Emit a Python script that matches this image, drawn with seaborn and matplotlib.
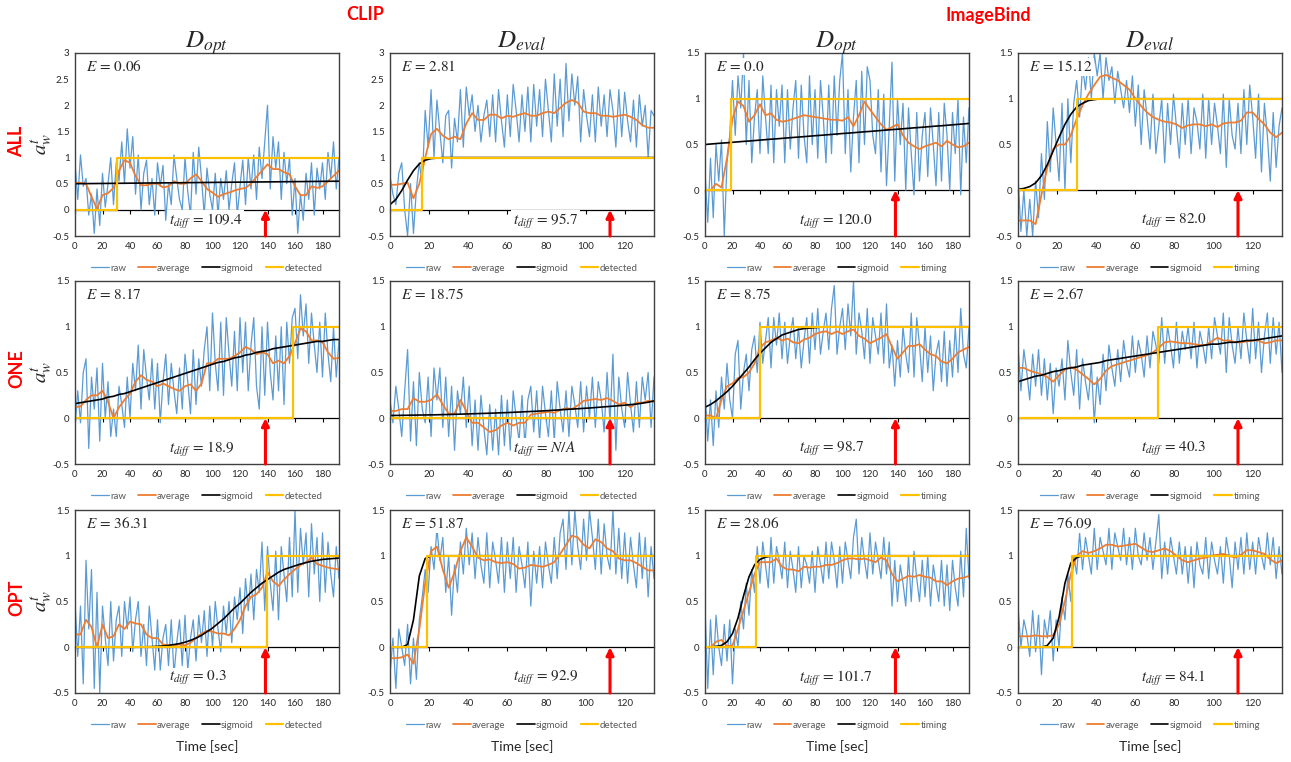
import numpy as np
import pandas as pd
import matplotlib
matplotlib.use("Agg")
import matplotlib.pyplot as plt
from matplotlib.ticker import FuncFormatter
import seaborn as sns

# --- time grids (seconds) ---
OPT_RAW_STEP, OPT_AVG_STEP, OPT_XMAX = 2.0, 4.0, 192
EVAL_RAW_STEP, EVAL_AVG_STEP, EVAL_XMAX = 1.5, 3.0, 135

row_names = ["ALL", "ONE", "OPT"]
col_models = ["CLIP", "CLIP", "ImageBind", "ImageBind"]
col_splits = ["opt", "eval", "opt", "eval"]
step_names = ["detected", "detected", "timing", "timing"]
e_labels = [["0.06", "2.81", "0.0", "15.12"],
            ["8.17", "18.75", "8.75", "2.67"],
            ["36.31", "51.87", "28.06", "76.09"]]
tdiff_labels = [["109.4", "95.7", "120.0", "82.0"],
                ["18.9", "N/A", "98.7", "40.3"],
                ["0.3", "92.9", "101.7", "84.1"]]
onsets = [[30.2, 16.5, 19.0, 30.0],
          [158.7, None, 40.2, 71.5],
          [139.4, 19.1, 37.1, 27.6]]
arrow_times = [138.5, 112.5, 138.5, 112.5]
y_tops = [[3.0, 3.0, 1.5, 1.5],
          [1.5, 1.5, 1.5, 1.5],
          [1.5, 1.5, 1.5, 1.5]]

# ---------------- ALL ----------------
raw_all_clip_opt = [
    0.9, 0.2, 1.05, 0.45, 0.6, -0.1, 0.3, -0.45, 0.4, -0.3,
    0.7, 0.05, 0.5, 1.0, 0.1, 0.9, 0.55, 1.3, 0.5, 1.55,
    0.8, 1.4, 0.3, 1.05, 0.0, 0.7, 0.95, 0.1, 0.6, -0.1,
    0.9, 0.45, 0.85, -0.2, 0.5, 0.1, 1.05, 0.6, 0.2, 0.0,
    1.0, 0.35, -0.1, 1.1, 0.3, 1.2, 0.6, -0.1, 0.8, 0.3,
    0.0, 0.7, -0.1, 0.6, 0.2, 0.75, 0.0, 0.5, 0.9, -0.1,
    0.45, 0.95, 0.1, 1.0, 0.4, 1.05, 0.2, 1.2, 0.6, 1.3,
    2.0, 0.4, 1.4, 0.8, 1.3, 0.2, 1.1, 0.5, 1.0, -0.1,
    0.6, -0.45, 0.3, -0.2, 0.7, 0.2, 0.9, -0.1, 0.8, 0.4,
    0.9, 0.2, 1.1, 0.6, 1.3, 0.4, 1.0]
avg_all_clip_opt = [
    0.52, 0.52, 0.5, 0.25, 0.02, 0.28, 0.32, 0.42, 0.75, 0.95,
    0.9, 0.65, 0.47, 0.47, 0.5, 0.5, 0.43, 0.45, 0.55, 0.5,
    0.5, 0.6, 0.68, 0.55, 0.4, 0.33, 0.25, 0.3, 0.33, 0.37,
    0.4, 0.42, 0.5, 0.63, 0.75, 0.87, 0.78, 0.78, 0.72, 0.68,
    0.45, 0.28, 0.28, 0.45, 0.42, 0.45, 0.55, 0.65, 0.75]
sig_all_clip_opt = [
    0.500, 0.501, 0.502, 0.503, 0.504, 0.505, 0.506, 0.507, 0.508, 0.509,
    0.510, 0.511, 0.512, 0.513, 0.514, 0.515, 0.516, 0.517, 0.518, 0.519,
    0.520, 0.521, 0.522, 0.523, 0.524, 0.525, 0.526, 0.527, 0.528, 0.529,
    0.530, 0.531, 0.532, 0.533, 0.534, 0.535, 0.536, 0.537, 0.538, 0.539,
    0.540, 0.541, 0.542, 0.543, 0.544, 0.545, 0.546, 0.547, 0.548]

raw_all_clip_eval = [
    0.65, 0.3, 0.1, 0.7, 0.9, 0.0, -0.5, 0.5, -0.45, 0.4,
    0.9, 0.5, 1.9, 1.2, 2.3, 1.0, 2.1, 1.5, 0.9, 1.8,
    1.9, 0.8, 1.75, 1.3, 2.3, 1.2, 2.35, 1.8, 2.2, 1.5,
    2.0, 1.3, 1.8, 2.1, 1.4, 2.2, 1.3, 2.3, 1.7, 1.2,
    2.2, 1.4, 2.4, 1.9, 1.3, 2.2, 1.5, 2.35, 1.3, 2.4,
    1.6, 2.3, 1.4, 2.5, 1.9, 1.3, 2.6, 1.6, 2.5, 1.4,
    2.8, 1.7, 2.6, 2.0, 2.55, 1.3, 2.3, 1.8, 1.4, 2.2,
    1.3, 2.35, 1.6, 2.2, 1.4, 2.3, 1.9, 1.2, 2.3, 1.4,
    2.25, 1.7, 1.3, 2.1, 1.2, 2.2, 1.6, 2.0, 1.0, 1.9,
    1.8]
avg_all_clip_eval = [
    0.48, 0.48, 0.5, 0.52, 0.22, 0.5, 1.0, 1.45, 1.55, 1.42,
    1.35, 1.4, 1.35, 1.65, 1.85, 1.72, 1.72, 1.82, 1.82, 1.75,
    1.8, 1.78, 1.82, 1.85, 1.8, 1.8, 1.85, 1.88, 1.85, 1.95,
    2.05, 2.1, 2.05, 1.88, 1.85, 1.85, 1.8, 1.8, 1.78, 1.8,
    1.82, 1.78, 1.72, 1.62, 1.57, 1.57]
sig_all_clip_eval = [
    0.1, 0.2, 0.37, 0.57, 0.75, 0.88, 0.95, 0.98, 0.99, 1.0,
    1.0, 1.0, 1.0, 1.0, 1.0, 1.0, 1.0, 1.0, 1.0, 1.0,
    1.0, 1.0, 1.0, 1.0, 1.0, 1.0, 1.0, 1.0, 1.0, 1.0,
    1.0, 1.0, 1.0, 1.0, 1.0, 1.0, 1.0, 1.0, 1.0, 1.0,
    1.0, 1.0, 1.0, 1.0, 1.0, 1.0]

raw_all_ib_opt = [
    0.2, -0.35, 0.35, -0.3, 0.5, 0.1, 0.55, -0.5, 0.3, 0.6,
    1.2, 0.6, 1.25, 0.9, 1.5, 0.5, 1.2, 0.3, 0.8, 1.1,
    0.4, 1.25, 0.8, 0.4, 1.15, 0.3, 1.1, 0.7, 1.15, 0.3,
    1.1, 0.45, 0.9, 1.2, 0.35, 1.15, 0.6, 0.3, 1.25, 0.5,
    1.1, 0.35, 1.2, 0.8, 0.3, 1.15, 0.4, 1.25, 0.6, 1.2,
    1.5, 0.4, 1.1, 0.2, 0.8, 1.2, 0.3, 1.3, 0.5, 1.35,
    1.2, 0.6, 0.4, 1.1, 0.2, 1.05, 0.05, 0.7, 1.4, 0.1,
    1.0, 0.5, 0.95, 0.0, 0.9, 0.4, -0.05, 0.85, 0.1, 0.6,
    0.85, 0.15, 0.9, 0.5, 0.05, 0.85, 0.1, 0.95, 0.6, 0.0,
    0.85, 0.4, 1.0, -0.05, 0.8, 0.3, 0.9]
avg_all_ib_opt = [
    0.0, 0.0, 0.07, 0.03, 0.35, 0.78, 0.97, 0.92, 0.75, 0.82,
    0.94, 0.82, 0.84, 0.77, 0.75, 0.76, 0.78, 0.8, 0.82, 0.81,
    0.8, 0.79, 0.78, 0.77, 0.77, 0.76, 0.8, 0.7, 0.82, 0.97,
    0.88, 0.8, 0.72, 0.66, 0.69, 0.72, 0.6, 0.52, 0.48, 0.45,
    0.48, 0.5, 0.52, 0.48, 0.54, 0.5, 0.47, 0.48, 0.52]
sig_all_ib_opt = [
    0.500, 0.505, 0.510, 0.515, 0.519, 0.524, 0.529, 0.534, 0.538, 0.543,
    0.548, 0.553, 0.558, 0.562, 0.567, 0.572, 0.577, 0.581, 0.586, 0.591,
    0.596, 0.600, 0.605, 0.610, 0.615, 0.620, 0.624, 0.629, 0.634, 0.639,
    0.643, 0.648, 0.653, 0.658, 0.663, 0.667, 0.672, 0.677, 0.682, 0.686,
    0.691, 0.696, 0.701, 0.705, 0.710, 0.715, 0.720, 0.725, 0.730]

raw_all_ib_eval = [
    0.15, -0.45, 0.0, -0.5, -0.1, -0.5, 0.1, -0.3, 0.4, -0.1,
    0.75, 0.2, 0.9, 0.5, 0.1, 0.95, 0.0, 1.0, 0.3, 0.95,
    1.2, 0.8, 1.35, 1.1, 1.45, 1.0, 1.5, 1.25, 1.5, 1.0,
    1.45, 1.2, 1.35, 0.95, 1.3, 1.1, 0.9, 1.2, 0.85, 1.25,
    0.7, 1.15, 0.5, 1.1, 0.8, 0.45, 1.05, 0.4, 0.7, 1.0,
    0.3, 0.95, 0.5, 1.05, 0.7, 0.35, 0.95, 0.5, 1.0, 0.4,
    0.9, 0.75, 0.45, 1.05, 0.35, 1.0, 0.5, 0.95, 0.7, 0.4,
    1.05, 0.25, 1.0, 0.6, 0.45, 0.95, 0.4, 1.1, 0.5, 1.15,
    0.8, 0.35, 1.05, 0.2, 0.95, 0.6, 0.1, 0.85, 0.25, 0.7,
    0.9]
avg_all_ib_eval = [
    -0.33, -0.33, -0.33, -0.37, -0.05, 0.25, 0.45, 0.5, 0.5, 0.6,
    0.78, 0.93, 1.05, 1.15, 1.24, 1.26, 1.23, 1.2, 1.15, 1.1,
    1.0, 0.92, 0.85, 0.8, 0.77, 0.75, 0.74, 0.72, 0.68, 0.71,
    0.72, 0.72, 0.7, 0.72, 0.69, 0.73, 0.74, 0.74, 0.76, 0.85,
    0.85, 0.78, 0.72, 0.63, 0.58, 0.63]
sig_all_ib_eval = [
    0.01, 0.02, 0.04, 0.08, 0.16, 0.28, 0.43, 0.58, 0.72, 0.83,
    0.91, 0.95, 0.98, 0.99, 1.0, 1.0, 1.0, 1.0, 1.0, 1.0,
    1.0, 1.0, 1.0, 1.0, 1.0, 1.0, 1.0, 1.0, 1.0, 1.0,
    1.0, 1.0, 1.0, 1.0, 1.0, 1.0, 1.0, 1.0, 1.0, 1.0,
    1.0, 1.0, 1.0, 1.0, 1.0, 1.0]

# ---------------- ONE ----------------
raw_one_clip_opt = [
    -0.1, 0.3, -0.05, 0.5, 0.65, -0.33, 0.45, 0.1, 0.55, -0.25,
    0.6, 0.0, 0.4, -0.2, 0.1, -0.2, 0.35, 0.15, -0.1, 0.45,
    0.0, 0.6, 0.3, 0.8, 0.1, 0.75, 0.45, 0.2, 0.65, 0.1,
    0.6, -0.05, 0.4, 0.7, 0.15, 0.6, 0.3, 0.05, 0.55, 0.1,
    0.7, 0.4, 0.05, 0.75, 0.15, 0.65, 0.35, 0.75, 1.0, 0.3,
    1.15, 0.6, 0.3, 1.05, 0.25, 1.1, 0.7, 0.35, 0.95, 0.3,
    1.1, 0.5, 1.05, 0.3, 0.8, 1.1, 0.35, 0.1, 1.0, 0.25,
    1.05, 0.5, 0.2, 0.9, 0.3, 1.0, 0.15, 1.05, 0.6, 1.1,
    1.2, 0.65, 1.35, 0.9, 1.25, 0.6, 1.15, 0.8, 0.5, 1.05,
    0.45, 1.15, 0.7, 0.4, 1.0, 0.45, 0.85]
avg_one_clip_opt = [
    0.12, 0.13, 0.2, 0.25, 0.25, 0.3, 0.18, 0.0, 0.12, 0.2,
    0.27, 0.4, 0.47, 0.42, 0.4, 0.35, 0.38, 0.35, 0.32, 0.3,
    0.35, 0.37, 0.3, 0.38, 0.6, 0.6, 0.65, 0.65, 0.65, 0.68,
    0.72, 0.78, 0.75, 0.7, 0.72, 0.7, 0.6, 0.63, 0.6, 0.68,
    0.82, 0.98, 0.95, 0.85, 0.85, 0.83, 0.72, 0.65, 0.66]
sig_one_clip_opt = [
    0.16, 0.17, 0.18, 0.19, 0.2, 0.21, 0.23, 0.24, 0.26, 0.27,
    0.29, 0.31, 0.33, 0.35, 0.37, 0.39, 0.41, 0.43, 0.45, 0.47,
    0.49, 0.51, 0.53, 0.55, 0.57, 0.59, 0.61, 0.62, 0.64, 0.66,
    0.67, 0.69, 0.7, 0.72, 0.73, 0.74, 0.76, 0.77, 0.78, 0.79,
    0.8, 0.81, 0.82, 0.83, 0.84, 0.84, 0.85, 0.86, 0.86]

raw_one_clip_eval = [
    0.2, -0.05, 0.35, 0.1, -0.2, 0.3, 0.75, -0.25, 0.4, -0.3,
    0.5, 0.1, -0.05, 0.45, -0.2, 0.55, 0.2, 0.55, -0.1, 0.45,
    -0.2, 0.35, -0.35, 0.3, 0.05, 0.45, -0.1, 0.35, -0.3, 0.2,
    -0.35, 0.25, -0.1, -0.4, 0.15, -0.35, 0.1, -0.4, 0.25, -0.3,
    0.2, -0.35, 0.3, 0.0, -0.25, 0.25, -0.3, 0.2, 0.35, -0.15,
    0.3, -0.25, 0.35, 0.05, -0.2, 0.3, -0.25, 0.4, 0.1, -0.15,
    0.3, -0.2, 0.35, 0.15, -0.1, 0.4, -0.15, 0.35, 0.0, 0.45,
    -0.1, 0.4, 0.2, -0.15, 0.5, -0.05, 0.7, -0.35, 0.45, 0.1,
    -0.1, 0.5, 0.15, -0.15, 0.4, -0.1, 0.45, 0.2, 0.5, -0.1,
    0.45]
avg_one_clip_eval = [
    0.08, 0.08, 0.1, 0.1, 0.22, 0.18, 0.18, 0.2, 0.26, 0.15,
    0.05, 0.05, 0.2, 0.08, -0.05, -0.05, -0.1, -0.15, -0.13, -0.08,
    -0.05, -0.08, -0.05, -0.05, 0.04, 0.05, 0.06, 0.07, 0.06, 0.09,
    0.11, 0.1, 0.14, 0.19, 0.2, 0.21, 0.2, 0.22, 0.19, 0.15,
    0.17, 0.12, 0.17, 0.17, 0.19, 0.18]
sig_one_clip_eval = [
    0.03, 0.031, 0.032, 0.033, 0.034, 0.035, 0.036, 0.037, 0.038, 0.04,
    0.041, 0.043, 0.045, 0.047, 0.049, 0.051, 0.053, 0.055, 0.057, 0.06,
    0.062, 0.065, 0.068, 0.071, 0.074, 0.077, 0.08, 0.084, 0.088, 0.092,
    0.096, 0.1, 0.104, 0.108, 0.112, 0.117, 0.122, 0.127, 0.132, 0.137,
    0.143, 0.149, 0.155, 0.165, 0.175, 0.19]

raw_one_ib_opt = [
    0.3, -0.25, 0.2, -0.3, 0.3, -0.1, 0.45, 0.1, 0.6, 0.2,
    0.0, 0.7, 0.85, 0.1, 0.5, 0.7, 0.3, 0.75, 0.9, 0.5,
    1.05, 0.6, 0.85, 1.1, 0.55, 1.1, 0.8, 1.15, 0.65, 1.05,
    0.6, 0.9, 1.1, 0.65, 1.0, 0.55, 0.85, 1.1, 0.6, 1.15,
    0.75, 1.2, 0.7, 0.95, 1.15, 0.75, 1.2, 1.45, 0.7, 1.0,
    1.2, 0.75, 1.25, 0.9, 1.5, 0.7, 1.15, 0.95, 0.65, 1.2,
    0.6, 1.1, 0.9, 0.7, 1.15, 0.6, 1.25, 0.55, 0.8, 0.35,
    0.85, 0.45, 1.0, 0.7, 0.5, 1.15, 0.45, 1.1, 0.8, 0.4,
    1.0, 0.5, 0.9, 0.3, 0.7, 0.85, 0.4, 0.95, 0.35, 0.85,
    0.45, 1.0, 0.5, 1.2, 0.7, 0.55, 1.0]
avg_one_ib_opt = [
    0.03, 0.03, 0.0, 0.2, 0.35, 0.38, 0.44, 0.45, 0.5, 0.6,
    0.77, 0.83, 0.85, 0.88, 0.85, 0.87, 0.83, 0.82, 0.86, 0.88,
    0.92, 0.94, 0.95, 0.92, 0.95, 0.92, 0.95, 0.97, 0.9, 0.87,
    0.82, 0.85, 0.88, 0.92, 0.78, 0.65, 0.72, 0.79, 0.79, 0.81,
    0.75, 0.7, 0.68, 0.62, 0.6, 0.65, 0.72, 0.75, 0.78]
sig_one_ib_opt = [
    0.12, 0.15, 0.19, 0.24, 0.29, 0.35, 0.42, 0.49, 0.56, 0.64,
    0.71, 0.77, 0.83, 0.87, 0.91, 0.93, 0.95, 0.97, 0.98, 0.985,
    0.99, 0.995, 1.0, 1.0, 1.0, 1.0, 1.0, 1.0, 1.0, 1.0,
    1.0, 1.0, 1.0, 1.0, 1.0, 1.0, 1.0, 1.0, 1.0, 1.0,
    1.0, 1.0, 1.0, 1.0, 1.0, 1.0, 1.0, 1.0, 1.0]

raw_one_ib_eval = [
    0.8, 0.3, 0.75, 0.5, 0.2, 0.7, 0.35, 0.75, 0.25, 0.65,
    0.2, 0.6, 0.05, 0.55, 0.35, 0.65, 0.2, 0.85, 0.5, 0.25,
    0.75, 0.1, 0.65, 0.4, 0.2, 0.6, -0.05, 0.45, 0.15, 0.7,
    0.3, 0.8, 0.55, 0.35, 0.75, 0.4, 0.85, 0.6, 0.45, 0.9,
    0.5, 0.85, 0.7, 0.45, 0.9, 0.55, 0.95, 0.8, 0.6, 1.1,
    0.6, 1.0, 0.8, 0.55, 1.05, 0.6, 0.95, 0.75, 1.0, 0.65,
    1.05, 0.55, 0.95, 0.8, 0.6, 1.0, 0.65, 1.1, 0.9, 0.7,
    1.15, 0.5, 1.1, 0.8, 0.6, 1.0, 0.65, 1.15, 0.85, 0.6,
    1.2, 0.65, 1.05, 0.5, 0.9, 1.15, 0.6, 1.1, 0.7, 1.05,
    0.5]
avg_one_ib_eval = [
    0.55, 0.55, 0.52, 0.5, 0.48, 0.45, 0.4, 0.47, 0.53, 0.56,
    0.53, 0.48, 0.43, 0.37, 0.43, 0.52, 0.57, 0.59, 0.61, 0.63,
    0.65, 0.67, 0.69, 0.72, 0.77, 0.83, 0.84, 0.83, 0.82, 0.82,
    0.81, 0.8, 0.8, 0.84, 0.88, 0.85, 0.85, 0.83, 0.83, 0.84,
    0.85, 0.85, 0.82, 0.83, 0.85, 0.85]
sig_one_ib_eval = [
    0.4, 0.42, 0.44, 0.46, 0.47, 0.49, 0.51, 0.52, 0.54, 0.55,
    0.56, 0.58, 0.59, 0.6, 0.61, 0.63, 0.64, 0.65, 0.66, 0.67,
    0.68, 0.69, 0.7, 0.71, 0.72, 0.73, 0.74, 0.75, 0.76, 0.77,
    0.78, 0.79, 0.8, 0.81, 0.81, 0.82, 0.83, 0.83, 0.84, 0.85,
    0.85, 0.86, 0.87, 0.88, 0.89, 0.9]

# ---------------- OPT ----------------
raw_opt_clip_opt = [
    0.5, -0.1, 0.45, -0.4, 0.95, 0.2, 0.85, -0.45, 0.6, -0.5,
    0.45, 0.1, -0.2, 0.5, -0.15, 0.3, 0.45, -0.1, 0.5, 0.2,
    0.55, -0.05, 0.3, 0.5, -0.1, 0.25, -0.2, 0.45, 0.1, -0.25,
    0.3, -0.25, 0.1, 0.25, -0.2, 0.3, -0.3, 0.05, 0.3, -0.2,
    0.35, -0.25, 0.1, 0.3, -0.15, 0.35, 0.05, 0.4, -0.1, 0.45,
    0.0, 0.5, 0.2, -0.05, 0.45, 0.15, 0.5, 0.05, 0.55, 0.3,
    0.65, 0.15, 0.75, 0.4, 0.8, 0.3, 0.85, 0.6, 1.15, 0.4,
    1.1, 0.7, 0.4, 1.05, 0.3, 1.1, 0.8, 0.5, 1.2, 0.55,
    1.5, 0.6, 1.3, 0.9, 1.25, 0.55, 1.35, 0.8, 1.2, 0.5,
    1.25, 0.6, 1.15, 0.8, 0.55, 1.1, 0.75]
avg_opt_clip_opt = [
    0.14, 0.14, 0.3, 0.22, 0.0, 0.25, 0.1, 0.12, 0.25, 0.2,
    0.28, 0.26, 0.25, 0.14, 0.1, 0.1, 0.03, 0.02, 0.02, 0.03,
    0.02, 0.05, 0.1, 0.15, 0.18, 0.17, 0.15, 0.15, 0.13, 0.2,
    0.3, 0.45, 0.55, 0.58, 0.65, 0.82, 0.72, 0.67, 0.74, 0.8,
    0.85, 0.9, 0.93, 0.98, 0.91, 0.89, 0.87, 0.86, 0.85]
sig_opt_clip_opt = [
    0.0, 0.0, 0.0, 0.0, 0.0, 0.0, 0.0, 0.0, 0.0, 0.0,
    0.0, 0.0, 0.003, 0.005, 0.007, 0.01, 0.015, 0.02, 0.03, 0.04,
    0.055, 0.075, 0.1, 0.13, 0.17, 0.21, 0.26, 0.31, 0.37, 0.43,
    0.48, 0.54, 0.6, 0.65, 0.7, 0.74, 0.78, 0.82, 0.85, 0.87,
    0.89, 0.91, 0.925, 0.94, 0.95, 0.96, 0.965, 0.97, 0.975]

raw_opt_clip_eval = [
    -0.3, 0.1, -0.45, 0.2, 0.0, -0.2, 0.25, -0.4, 0.1, -0.35,
    0.3, 0.55, 0.85, 0.6, 1.1, 0.85, 1.3, 0.95, 1.2, 0.6,
    1.0, 0.35, 0.9, 0.6, 1.15, 0.8, 1.3, 0.9, 1.25, 0.75,
    1.2, 0.9, 0.7, 1.25, 0.65, 1.15, 0.95, 0.7, 1.2, 0.6,
    1.15, 0.75, 1.2, 0.6, 1.1, 0.9, 0.65, 1.15, 0.45, 1.05,
    0.7, 1.1, 0.65, 1.15, 0.9, 0.7, 1.2, 0.75, 1.25, 1.4,
    0.85, 1.5, 0.9, 1.5, 1.1, 0.85, 1.4, 0.95, 1.5, 1.2,
    0.85, 1.4, 0.8, 1.35, 1.0, 0.85, 1.5, 0.8, 1.3, 0.75,
    1.25, 0.7, 1.2, 0.9, 0.65, 1.25, 0.75, 1.2, 0.55, 1.1,
    0.75]
avg_opt_clip_eval = [
    -0.12, -0.12, -0.11, -0.08, -0.18, 0.2, 0.7, 1.05, 1.1, 0.85,
    0.65, 0.82, 1.05, 1.2, 1.1, 0.98, 0.95, 0.96, 0.93, 0.92,
    0.93, 0.91, 0.86, 0.87, 0.9, 0.89, 0.88, 0.9, 0.93, 1.02,
    1.12, 1.22, 1.2, 1.12, 1.08, 1.18, 1.15, 1.08, 1.05, 0.97,
    0.95, 0.95, 0.92, 0.88, 0.84, 0.84]
sig_opt_clip_eval = [
    0.0, 0.0, 0.0, 0.03, 0.3, 0.78, 0.97, 1.0, 1.0, 1.0,
    1.0, 1.0, 1.0, 1.0, 1.0, 1.0, 1.0, 1.0, 1.0, 1.0,
    1.0, 1.0, 1.0, 1.0, 1.0, 1.0, 1.0, 1.0, 1.0, 1.0,
    1.0, 1.0, 1.0, 1.0, 1.0, 1.0, 1.0, 1.0, 1.0, 1.0,
    1.0, 1.0, 1.0, 1.0, 1.0, 1.0]

raw_opt_ib_opt = [
    0.45, -0.45, 0.3, -0.3, 0.35, 0.0, -0.2, 0.25, -0.15, 0.3,
    -0.4, 0.2, 0.0, 0.5, 0.2, 0.7, 0.35, 0.85, 0.6, 1.1,
    0.7, 1.15, 0.9, 0.65, 1.2, 0.7, 1.1, 0.95, 0.75, 1.15,
    0.65, 1.05, 0.85, 0.6, 1.1, 0.65, 1.0, 0.9, 0.7, 1.05,
    0.6, 1.1, 0.9, 0.7, 1.15, 0.75, 1.15, 0.95, 0.65, 1.1,
    0.7, 1.15, 0.95, 0.75, 1.2, 1.4, 0.8, 1.2, 0.95, 0.75,
    1.25, 0.8, 1.15, 0.95, 0.75, 1.2, 0.8, 1.15, 0.45, 0.95,
    0.5, 0.9, 0.7, 0.45, 1.0, 0.5, 1.05, 0.75, 0.5, 0.95,
    0.55, 1.0, 0.45, 0.9, 0.7, 0.5, 0.95, 0.45, 0.9, 0.4,
    0.95, 0.65, 0.45, 1.05, 0.55, 1.3, 0.75]
avg_opt_ib_opt = [
    0.0, 0.0, 0.06, 0.08, 0.01, 0.02, 0.2, 0.4, 0.6, 0.8,
    0.93, 0.93, 0.93, 0.97, 0.88, 0.85, 0.85, 0.83, 0.88, 0.87,
    0.88, 0.88, 0.9, 0.9, 0.92, 0.95, 0.97, 0.97, 0.96, 0.97,
    0.95, 0.93, 0.98, 0.95, 0.8, 0.72, 0.75, 0.78, 0.77, 0.79,
    0.77, 0.76, 0.72, 0.72, 0.68, 0.72, 0.75, 0.76, 0.78]
sig_opt_ib_opt = [
    0.0, 0.0, 0.01, 0.02, 0.06, 0.15, 0.32, 0.56, 0.77, 0.9,
    0.96, 0.985, 0.995, 1.0, 1.0, 1.0, 1.0, 1.0, 1.0, 1.0,
    1.0, 1.0, 1.0, 1.0, 1.0, 1.0, 1.0, 1.0, 1.0, 1.0,
    1.0, 1.0, 1.0, 1.0, 1.0, 1.0, 1.0, 1.0, 1.0, 1.0,
    1.0, 1.0, 1.0, 1.0, 1.0, 1.0, 1.0, 1.0, 1.0]

raw_opt_ib_eval = [
    0.45, 0.0, 0.3, 0.15, -0.1, 0.4, -0.05, 0.35, -0.3, 0.3,
    0.1, 0.4, -0.15, 0.3, 0.0, 0.55, 0.3, 0.8, 0.5, 1.0,
    0.8, 1.25, 0.85, 1.2, 1.0, 0.8, 1.3, 0.85, 1.2, 1.05,
    0.9, 1.3, 0.85, 1.25, 1.1, 0.95, 1.3, 0.9, 1.2, 0.85,
    1.3, 1.0, 0.9, 1.25, 0.95, 1.2, 0.85, 1.15, 1.45, 0.75,
    1.15, 0.8, 1.2, 1.0, 0.8, 1.15, 0.8, 1.1, 0.7, 1.1,
    0.65, 1.15, 0.9, 0.8, 1.2, 0.75, 1.15, 0.95, 0.8, 1.1,
    0.7, 1.2, 1.0, 0.65, 1.15, 0.85, 1.2, 0.8, 1.25, 0.85,
    1.15, 0.8, 1.2, 1.0, 0.85, 1.25, 0.9, 1.2, 0.75, 1.1,
    0.8]
avg_opt_ib_eval = [
    0.12, 0.12, 0.12, 0.13, 0.12, 0.12, 0.13, 0.25, 0.5, 0.8,
    1.0, 1.05, 1.03, 1.05, 1.08, 1.12, 1.12, 1.1, 1.11, 1.12,
    1.13, 1.09, 1.05, 1.04, 1.06, 1.08, 1.05, 1.0, 0.95, 0.93,
    0.95, 0.97, 0.98, 1.0, 1.01, 1.02, 1.0, 0.98, 1.01, 1.06,
    1.06, 1.04, 1.02, 0.96, 0.92, 0.95]
sig_opt_ib_eval = [
    0.0, 0.0, 0.0, 0.0, 0.0, 0.02, 0.1, 0.33, 0.7, 0.92,
    0.98, 1.0, 1.0, 1.0, 1.0, 1.0, 1.0, 1.0, 1.0, 1.0,
    1.0, 1.0, 1.0, 1.0, 1.0, 1.0, 1.0, 1.0, 1.0, 1.0,
    1.0, 1.0, 1.0, 1.0, 1.0, 1.0, 1.0, 1.0, 1.0, 1.0,
    1.0, 1.0, 1.0, 1.0, 1.0, 1.0]

panels = [
    [(raw_all_clip_opt, avg_all_clip_opt, sig_all_clip_opt),
     (raw_all_clip_eval, avg_all_clip_eval, sig_all_clip_eval),
     (raw_all_ib_opt, avg_all_ib_opt, sig_all_ib_opt),
     (raw_all_ib_eval, avg_all_ib_eval, sig_all_ib_eval)],
    [(raw_one_clip_opt, avg_one_clip_opt, sig_one_clip_opt),
     (raw_one_clip_eval, avg_one_clip_eval, sig_one_clip_eval),
     (raw_one_ib_opt, avg_one_ib_opt, sig_one_ib_opt),
     (raw_one_ib_eval, avg_one_ib_eval, sig_one_ib_eval)],
    [(raw_opt_clip_opt, avg_opt_clip_opt, sig_opt_clip_opt),
     (raw_opt_clip_eval, avg_opt_clip_eval, sig_opt_clip_eval),
     (raw_opt_ib_opt, avg_opt_ib_opt, sig_opt_ib_opt),
     (raw_opt_ib_eval, avg_opt_ib_eval, sig_opt_ib_eval)],
]

# --- style ---
sns.set_theme(style="white")
plt.rcParams["font.family"] = ["Lato", "DejaVu Sans"]
plt.rcParams["mathtext.fontset"] = "stix"

C_RAW = "#5B9BD5"
C_AVG = "#ED7D31"
C_SIG = "black"
C_STEP = "#FFC000"
C_RED = "#FF0000"

fig = plt.figure(figsize=(12.91, 7.62), dpi=100)

col_lefts = [75, 390, 705, 1018]
row_tops = [53, 281, 510]
AX_W, AX_H = 264, 183
W, H = 1291, 762

for r in range(3):
    for c in range(4):
        raw, avg, sig = panels[r][c]
        split = col_splits[c]
        if split == "opt":
            raw_step, avg_step, xmax = OPT_RAW_STEP, OPT_AVG_STEP, OPT_XMAX
        else:
            raw_step, avg_step, xmax = EVAL_RAW_STEP, EVAL_AVG_STEP, EVAL_XMAX
        ytop = y_tops[r][c]
        ax = fig.add_axes([col_lefts[c] / W, 1 - (row_tops[r] + AX_H) / H, AX_W / W, AX_H / H])

        df_raw = pd.DataFrame({"t": np.arange(len(raw)) * raw_step, "v": raw})
        df_avg = pd.DataFrame({"t": np.arange(len(avg)) * avg_step, "v": avg})
        df_sig = pd.DataFrame({"t": np.arange(len(sig)) * avg_step, "v": sig})
        on = onsets[r][c]
        if on is None:
            df_step = pd.DataFrame({"t": [0, xmax], "v": [0, 0]})
        else:
            df_step = pd.DataFrame({"t": [0, on, xmax], "v": [0, 1, 1]})

        sns.lineplot(data=df_raw, x="t", y="v", ax=ax, color=C_RAW, linewidth=0.9,
                     estimator=None, label="raw")
        sns.lineplot(data=df_avg, x="t", y="v", ax=ax, color=C_AVG, linewidth=1.3,
                     estimator=None, label="average")
        sns.lineplot(data=df_sig, x="t", y="v", ax=ax, color=C_SIG, linewidth=1.2,
                     estimator=None, label="sigmoid")
        sns.lineplot(data=df_step, x="t", y="v", ax=ax, color=C_STEP, linewidth=1.6,
                     estimator=None, drawstyle="steps-post", label=step_names[c])

        ax.set_xlim(0, xmax)
        ax.set_ylim(-0.5, ytop)
        ax.set_xticks(np.arange(0, xmax, 20))
        ax.set_yticks(np.arange(-0.5, ytop + 0.01, 0.5))
        ax.yaxis.set_major_formatter(FuncFormatter(lambda v, p: f"{v:g}"))
        ax.tick_params(axis="x", length=0, labelsize=7, pad=4, labelcolor="#262626")
        ax.tick_params(axis="y", length=0, labelsize=7, pad=4, labelcolor="#262626")
        ax.set_xlabel("")
        ax.set_ylabel("")
        for sp in ax.spines.values():
            sp.set_color("#404040")
            sp.set_linewidth(1.0)

        # zero line with tick marks, Excel style
        zero_loc = 0.5 / (ytop + 0.5)
        sec = ax.secondary_xaxis(zero_loc)
        sec.set_xticks(np.arange(0, xmax, 20))
        sec.tick_params(axis="x", direction="out", length=3, width=0.8,
                        labelbottom=False, labeltop=False, color="black")
        sec.spines["bottom"].set_color("black")
        sec.spines["bottom"].set_linewidth(0.9)

        # detection-time arrow
        ax.annotate("", xy=(arrow_times[c], 0), xytext=(arrow_times[c], -0.5),
                    arrowprops=dict(arrowstyle="-|>", color=C_RED, lw=2.2,
                                    mutation_scale=11, shrinkA=0, shrinkB=0),
                    zorder=5)

        ax.text(0.04, 0.925, rf"$E\,=\,{e_labels[r][c]}$", transform=ax.transAxes,
                fontsize=11, ha="left", va="center", zorder=6,
                bbox=dict(facecolor="white", edgecolor="none", pad=1))
        td = tdiff_labels[r][c]
        td_txt = r"$t_{diff}\,=\,N/A$" if td == "N/A" else rf"$t_{{diff}}\,=\,{td}$"
        ax.text(0.355 if split == "opt" else 0.465, 0.08, td_txt, transform=ax.transAxes,
                fontsize=11, ha="left", va="center", zorder=6,
                bbox=dict(facecolor="white", edgecolor="none", pad=1))

        handles, labels = ax.get_legend_handles_labels()
        leg = ax.legend(handles, labels, loc="center", bbox_to_anchor=(0.5, -0.175), ncol=4,
                        frameon=False, fontsize=7, handlelength=1.8, handletextpad=0.15,
                        columnspacing=1.2, borderaxespad=0)
        for t in leg.get_texts():
            t.set_color("#595959")

        if r == 0:
            ax.set_title(rf"$D_{{{split}}}$", fontsize=18, pad=4)
        if c == 0:
            ax.set_ylabel(r"$a_w^t$", fontsize=15)
            ax.yaxis.set_label_coords(-0.075, 0.5)
        if r == 2:
            ax.text(0.5, -0.29, "Time [sec]", transform=ax.transAxes, ha="center",
                    va="center", fontsize=10)

# model headers and row labels
fig.text(365 / W, 1 - 15 / H, "CLIP", color=C_RED, fontsize=13, fontweight="bold",
         ha="center", va="center")
fig.text(988 / W, 1 - 15 / H, "ImageBind", color=C_RED, fontsize=13, fontweight="bold",
         ha="center", va="center")
for r, name in enumerate(row_names):
    fig.text(17 / W, 1 - (row_tops[r] + 88) / H, name, color=C_RED, fontsize=13,
             fontweight="bold", rotation=90, ha="center", va="center")

fig.savefig("out.png", dpi=100)
